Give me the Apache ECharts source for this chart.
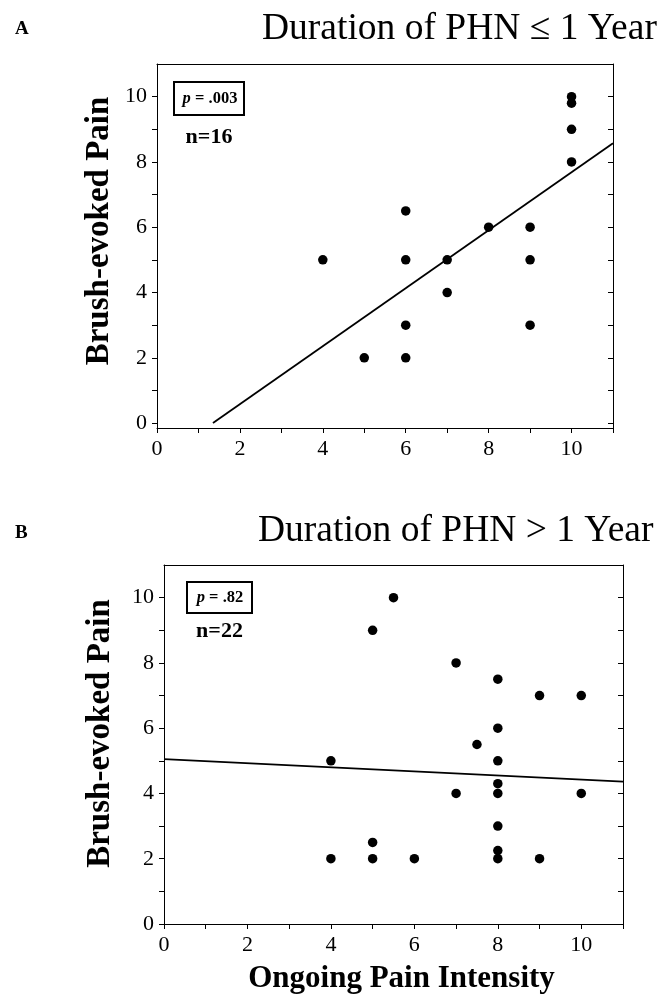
<!DOCTYPE html>
<html>
<head>
<meta charset="utf-8">
<script src="https://cdn.jsdelivr.net/npm/echarts@6/dist/echarts.min.js"></script>
<style>
html,body{margin:0;padding:0;background:#fff;}
#chart{width:667px;height:995px;}
</style>
</head>
<body>
<div id="chart"></div>
<script>
// Panel A: Duration of PHN <= 1 year (n=16)
const ongoingA = [4, 5, 6, 6, 6, 6, 7, 7, 8, 9, 9, 9, 10, 10, 10, 10];
const brushA   = [5, 2, 6.5, 5, 3, 2, 5, 4, 6, 6, 5, 3, 10, 9.8, 9, 8];
const fitA_x = [1.35, 11];
const fitA_y = [0, 8.57];

// Panel B: Duration of PHN > 1 year (n=22)
const ongoingB = [4, 4, 5, 5, 5, 5.5, 6, 7, 7, 7.5, 8, 8, 8, 8, 8, 8, 8, 8, 9, 9, 10, 10];
const brushB   = [5, 2, 9, 2.5, 2, 10, 2, 8, 4, 5.5, 7.5, 6, 5, 4.3, 4, 3, 2.25, 2, 7, 2, 7, 4];
const fitB_x = [0, 11];
const fitB_y = [5.05, 4.36];

const tickLabels = [0, 2, 4, 6, 8, 10];
const tickMarks = [0, 1, 2, 3, 4, 5, 6, 7, 8, 9, 10, 11];

const titleA = 'Duration of PHN \u2264 1 Year';
const titleB = 'Duration of PHN > 1 Year';
const yName = 'Brush-evoked Pain';
const xName = 'Ongoing Pain Intensity';

const serif = '"Liberation Serif", "DejaVu Serif", serif';
const zip = (xs, ys) => xs.map((x, i) => [x, ys[i]]);

function xAxes(gi, withName) {
  return [{
    type: 'value', gridIndex: gi, position: 'bottom', min: 0, max: 11,
    axisLine: {show: true, onZero: false, lineStyle: {color: '#000', width: 1}},
    axisTick: {show: true, inside: false, length: 5, customValues: tickMarks, lineStyle: {color: '#000'}},
    axisLabel: {show: true, customValues: tickLabels, margin: 10, color: '#000', fontFamily: serif, fontSize: 22},
    splitLine: {show: false},
    name: withName ? xName : '', nameLocation: 'middle', nameGap: 39, nameMoveOverlap: false,
    nameTextStyle: {fontFamily: serif, fontWeight: 'bold', fontSize: 31, color: '#000', padding: [0, 0, 0, 16]}
  }, {
    type: 'value', gridIndex: gi, position: 'top', min: 0, max: 11,
    axisLine: {show: true, onZero: false, lineStyle: {color: '#000', width: 1}},
    axisTick: {show: false}, axisLabel: {show: false}, splitLine: {show: false}
  }];
}
function yAxes(gi, ymin, gap, shift) {
  return [{
    type: 'value', gridIndex: gi, position: 'left', min: ymin, max: 11,
    axisLine: {show: true, onZero: false, lineStyle: {color: '#000', width: 1}},
    axisTick: {show: true, inside: false, length: 5, customValues: tickMarks.slice(0, 11), lineStyle: {color: '#000'}},
    axisLabel: {show: true, customValues: tickLabels, margin: 10, color: '#000', fontFamily: serif, fontSize: 22},
    splitLine: {show: false},
    name: yName, nameLocation: 'middle', nameGap: gap, nameRotate: 90, nameMoveOverlap: false,
    nameTextStyle: {fontFamily: serif, fontWeight: 'bold', fontSize: 33, color: '#000', padding: [0, 0, 0, shift]}
  }, {
    type: 'value', gridIndex: gi, position: 'right', min: ymin, max: 11,
    axisLine: {show: true, onZero: false, lineStyle: {color: '#000', width: 1}},
    axisTick: {show: true, inside: true, length: 5, customValues: tickMarks.slice(0, 11), lineStyle: {color: '#000'}},
    axisLabel: {show: false}, splitLine: {show: false}
  }];
}

const chart = echarts.init(document.getElementById('chart'), null, {renderer: 'canvas'});
const option = {
  backgroundColor: '#fff',
  animation: false,
  title: [
    {text: 'A', left: 15, top: 20, padding: 0, textStyle: {fontFamily: serif, fontWeight: 'bold', fontSize: 19, color: '#000'}},
    {text: titleA, left: 262, top: 10, padding: 0, textStyle: {fontFamily: serif, fontWeight: 'normal', fontSize: 37.5, color: '#000'}},
    {text: 'B', left: 15, top: 524, padding: 0, textStyle: {fontFamily: serif, fontWeight: 'bold', fontSize: 19, color: '#000'}},
    {text: titleB, left: 258, top: 512, padding: 0, textStyle: {fontFamily: serif, fontWeight: 'normal', fontSize: 37.5, color: '#000'}}
  ],
  grid: [
    {left: 157, top: 64, width: 456, height: 364},
    {left: 164, top: 565, width: 459, height: 362}
  ],
  xAxis: [...xAxes(0, false), ...xAxes(1, true)],
  yAxis: [...yAxes(0, -0.15, 41, 30), ...yAxes(1, 0, 47, 22)],
  series: [
    {type: 'scatter', xAxisIndex: 0, yAxisIndex: 0, data: zip(ongoingA, brushA), symbol: 'circle', symbolSize: 9.5, itemStyle: {color: '#000', opacity: 1}},
    {type: 'line', xAxisIndex: 0, yAxisIndex: 0, data: zip(fitA_x, fitA_y), symbol: 'none', lineStyle: {color: '#000', width: 1.8}},
    {type: 'scatter', xAxisIndex: 2, yAxisIndex: 2, data: zip(ongoingB, brushB), symbol: 'circle', symbolSize: 9.5, itemStyle: {color: '#000', opacity: 1}},
    {type: 'line', xAxisIndex: 2, yAxisIndex: 2, data: zip(fitB_x, fitB_y), symbol: 'none', lineStyle: {color: '#000', width: 1.8}}
  ],
  graphic: [
    {type: 'rect', shape: {x: 174, y: 82, width: 70, height: 33}, style: {fill: '#fff', stroke: '#000', lineWidth: 2}},
    {type: 'text', x: 210, y: 98.5, style: {text: '{i|p} = .003', align: 'center', verticalAlign: 'middle', rich: {i: {fontStyle: 'italic', fontWeight: 'bold', fontFamily: serif, fontSize: 16.5}}, fontFamily: serif, fontWeight: 'bold', fontSize: 16.5, fill: '#000'}},
    {type: 'text', x: 209, y: 137, style: {text: 'n=16', align: 'center', verticalAlign: 'middle', fontFamily: serif, fontWeight: 'bold', fontSize: 22, fill: '#000'}},
    {type: 'rect', shape: {x: 187, y: 582, width: 65, height: 31}, style: {fill: '#fff', stroke: '#000', lineWidth: 2}},
    {type: 'text', x: 220, y: 597.5, style: {text: '{i|p} = .82', align: 'center', verticalAlign: 'middle', rich: {i: {fontStyle: 'italic', fontWeight: 'bold', fontFamily: serif, fontSize: 16.5}}, fontFamily: serif, fontWeight: 'bold', fontSize: 16.5, fill: '#000'}},
    {type: 'text', x: 219.5, y: 631, style: {text: 'n=22', align: 'center', verticalAlign: 'middle', fontFamily: serif, fontWeight: 'bold', fontSize: 22, fill: '#000'}}
  ]
};
chart.setOption(option);
</script>
</body>
</html>
